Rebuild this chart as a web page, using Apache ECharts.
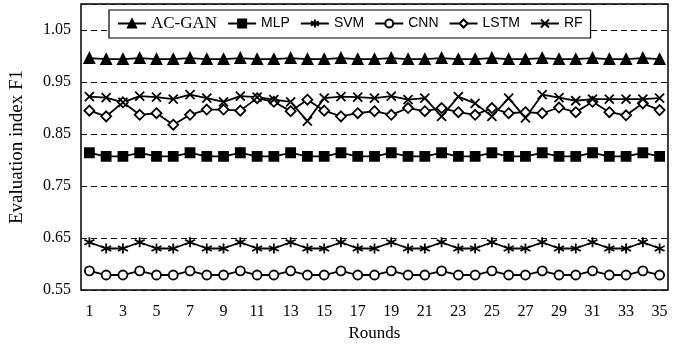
<!DOCTYPE html>
<html><head><meta charset="utf-8">
<script src="https://cdn.jsdelivr.net/npm/echarts@6/dist/echarts.min.js"></script>
<style>html,body{margin:0;padding:0;background:#fff}#c{width:678px;height:347px}</style>
</head><body><div id="c"></div>
<script>
const rounds = ['1','2','3','4','5','6','7','8','9','10','11','12','13','14','15','16','17','18','19','20','21','22','23','24','25','26','27','28','29','30','31','32','33','34','35'];
const yTicks = ['0.55','0.65','0.75','0.85','0.95','1.05'];
const acgan = [0.996,0.994,0.994,0.996,0.994,0.994,0.996,0.994,0.994,0.996,0.994,0.994,0.996,0.994,0.994,0.996,0.994,0.994,0.996,0.994,0.994,0.996,0.994,0.994,0.996,0.994,0.994,0.996,0.994,0.994,0.996,0.994,0.994,0.996,0.994];
const mlp = [0.814,0.807,0.807,0.814,0.807,0.807,0.814,0.807,0.807,0.814,0.807,0.807,0.814,0.807,0.807,0.814,0.807,0.807,0.814,0.807,0.807,0.814,0.807,0.807,0.814,0.807,0.807,0.814,0.807,0.807,0.814,0.807,0.807,0.814,0.807];
const svm = [0.642,0.630,0.630,0.642,0.630,0.630,0.642,0.630,0.630,0.642,0.630,0.630,0.642,0.630,0.630,0.642,0.630,0.630,0.642,0.630,0.630,0.642,0.630,0.630,0.642,0.630,0.630,0.642,0.630,0.630,0.642,0.630,0.630,0.642,0.630];
const cnn = [0.587,0.579,0.579,0.587,0.579,0.579,0.587,0.579,0.579,0.587,0.579,0.579,0.587,0.579,0.579,0.587,0.579,0.579,0.587,0.579,0.579,0.587,0.579,0.579,0.587,0.579,0.579,0.587,0.579,0.579,0.587,0.579,0.579,0.587,0.579];
const lstm = [0.895,0.884,0.911,0.887,0.890,0.868,0.887,0.897,0.897,0.895,0.919,0.912,0.894,0.916,0.895,0.884,0.890,0.894,0.887,0.900,0.894,0.900,0.892,0.887,0.900,0.890,0.892,0.890,0.901,0.892,0.912,0.892,0.886,0.909,0.896];
const rf = [0.922,0.920,0.911,0.923,0.921,0.917,0.926,0.919,0.912,0.923,0.921,0.916,0.912,0.875,0.919,0.922,0.921,0.919,0.923,0.916,0.919,0.884,0.922,0.909,0.884,0.919,0.881,0.926,0.920,0.914,0.917,0.917,0.917,0.917,0.919];

const SERIF = '"Liberation Serif","Times New Roman",serif';
const SANS = '"Liberation Sans",Arial,sans-serif';
const crossPath = 'path://M0,0L10,10M10,0L0,10';
const starPath = 'path://M5,0L5,10M0.7,2.5L9.3,7.5M0.7,7.5L9.3,2.5';

function mk(name, data, symbol, size, fill) {
  return {
    name: name, type: 'line', data: data, symbol: symbol, symbolSize: size,
    showAllSymbol: true,
    lineStyle: { color: '#000', width: 1.8 },
    itemStyle: { color: fill, borderColor: '#000', borderWidth: 1.8 },
    emphasis: { disabled: true }
  };
}

const chart = echarts.init(document.getElementById('c'), null, { renderer: 'canvas' });
chart.setOption({
  animation: false,
  backgroundColor: '#fff',
  grid: { left: 79, right: 10, top: 4, bottom: 52, show: true, borderColor: '#000', borderWidth: 1.5, backgroundColor: 'transparent' },
  legend: {
    left: 109, top: 10,
    padding: [5, 8, 6, 8],
    itemWidth: 28, itemHeight: 10, itemGap: 10,
    backgroundColor: '#fff', borderColor: '#000', borderWidth: 1.2, borderRadius: 0,
    data: ['AC-GAN','MLP','SVM','CNN','LSTM','RF'],
    formatter: function (n) { return n === 'AC-GAN' ? '{s|' + n + '}' : '{a|' + n + '}'; },
    textStyle: {
      color: '#000',
      rich: {
        s: { fontFamily: SERIF, fontSize: 17, color: '#000' },
        a: { fontFamily: SANS, fontSize: 14, color: '#000' }
      }
    }
  },
  xAxis: {
    type: 'category', data: rounds, boundaryGap: true,
    name: 'Rounds', nameLocation: 'middle', nameGap: 26,
    nameTextStyle: { fontFamily: SERIF, fontSize: 17, color: '#000' },
    axisLine: { show: false }, axisTick: { show: false },
    axisLabel: { interval: 1, fontFamily: SERIF, fontSize: 16, color: '#000', margin: 14 },
    splitLine: { show: false }
  },
  yAxis: {
    type: 'value', min: 0.55, max: 1.10, interval: 0.1,
    name: 'Evaluation index F1', nameLocation: 'middle', nameGap: 54,
    nameTextStyle: { fontFamily: SERIF, fontSize: 19, color: '#000' },
    axisLine: { show: false }, axisTick: { show: false },
    axisLabel: {
      fontFamily: SERIF, fontSize: 16, color: '#000', margin: 10,
      formatter: function (v) {
        const s = v.toFixed(2);
        return yTicks.indexOf(s) >= 0 ? s : '';
      }
    },
    splitLine: { show: true, lineStyle: { color: '#111', width: 1.2, type: [6, 4] } }
  },
  series: [
    mk('AC-GAN', acgan, 'triangle', 10, '#000'),
    mk('MLP', mlp, 'rect', 9, '#000'),
    mk('SVM', svm, starPath, 10, '#000'),
    mk('CNN', cnn, 'circle', 9, '#fff'),
    mk('LSTM', lstm, 'diamond', 10, '#fff'),
    mk('RF', rf, crossPath, 9, '#000')
  ]
});
</script>
</body></html>
